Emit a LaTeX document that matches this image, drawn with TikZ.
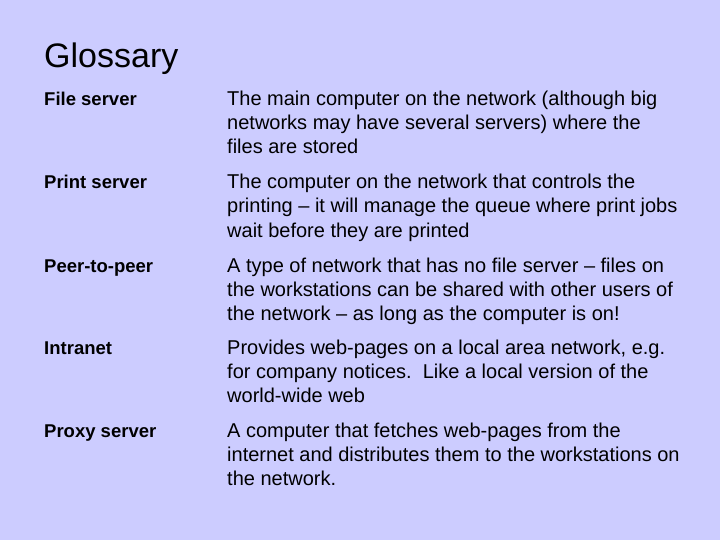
\documentclass[tikz,border=0pt]{standalone}
\usepackage{fontspec}
\setmainfont{Liberation Sans}
\definecolor{bg}{RGB}{204,204,255}
\begin{document}
\begin{tikzpicture}[x=1pt,y=-1pt,
  txt/.style={anchor=base west,inner sep=0pt,font=\fontsize{20}{24}\selectfont},
  term/.style={anchor=base west,inner sep=0pt,font=\fontsize{18.5}{24}\selectfont\bfseries},
  ttl/.style={anchor=base west,inner sep=0pt,font=\fontsize{34}{38}\selectfont}]
\fill[bg] (0,0) rectangle (720,540);
\useasboundingbox (0,0) rectangle (720,540);
\node[ttl] (title) at (44,68) {Glossary};
\node[term] (t1) at (44,106) {File server};
\node[txt] (d1a) at (227,106) {The main computer on the network (although big};
\node[txt] (d1b) at (227,130) {networks may have several servers) where the};
\node[txt] (d1c) at (227,154) {files are stored};
\node[term] (t2) at (44,189) {Print server};
\node[txt] (d2a) at (227,189) {The computer on the network that controls the};
\node[txt] (d2b) at (227,213) {printing – it will manage the queue where print jobs};
\node[txt] (d2c) at (227,237) {wait before they are printed};
\node[term] (t3) at (44,272) {Peer-to-peer};
\node[txt] (d3a) at (227,272) {A type of network that has no file server – files on};
\node[txt] (d3b) at (227,296) {the workstations can be shared with other users of};
\node[txt] (d3c) at (227,320) {the network – as long as the computer is on!};
\node[term] (t4) at (44,354) {Intranet};
\node[txt] (d4a) at (227,354) {Provides web-pages on a local area network, e.g.};
\node[txt] (d4b) at (227,378) {for company notices.\ \ Like a local version of the};
\node[txt] (d4c) at (227,402) {world-wide web};
\node[term] (t5) at (44,437) {Proxy server};
\node[txt] (d5a) at (227,437) {A computer that fetches web-pages from the};
\node[txt] (d5b) at (227,461) {internet and distributes them to the workstations on};
\node[txt] (d5c) at (227,485) {the network.};
\end{tikzpicture}
\end{document}
